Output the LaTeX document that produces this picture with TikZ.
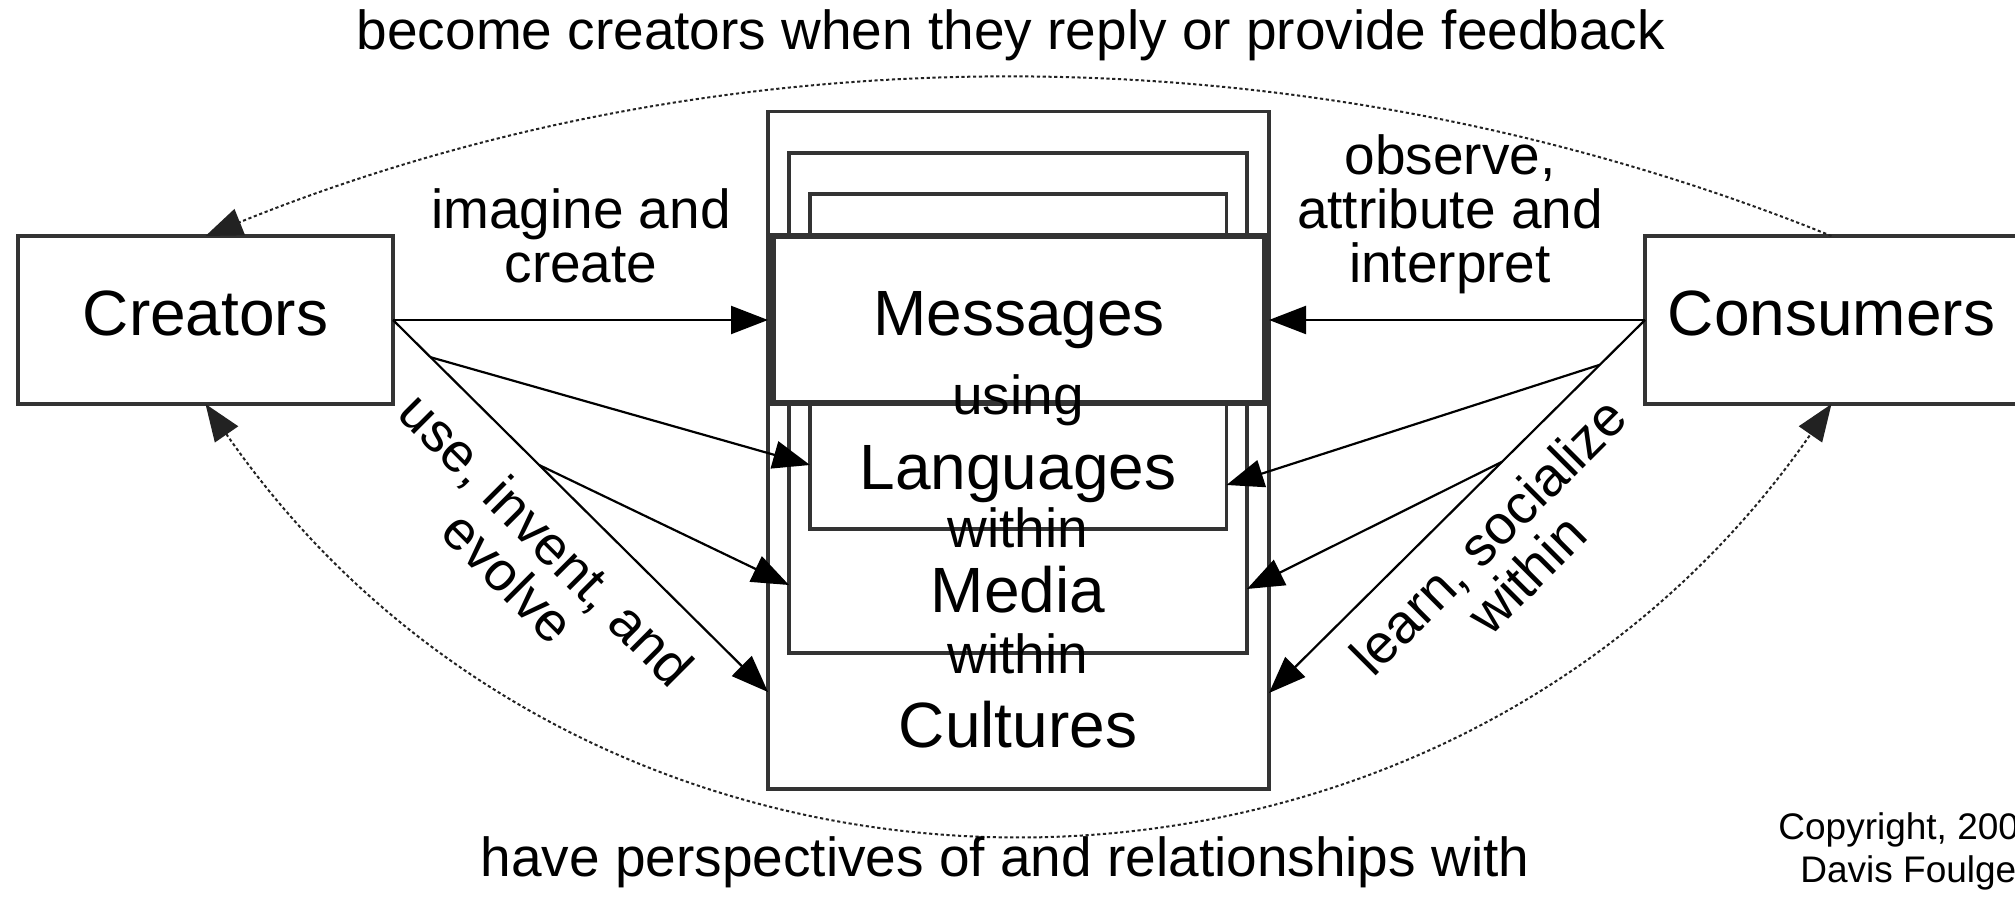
\documentclass[tikz,border=0pt]{standalone}
\usepackage{fontspec}
\setmainfont{Liberation Sans}
\usetikzlibrary{arrows.meta,calc}
\definecolor{linec}{HTML}{333333}
\definecolor{arcc}{HTML}{222222}
\begin{document}
\begin{tikzpicture}[x=0.5pt,y=-0.5pt,
  >={Triangle[length=18.5pt,width=14pt]},
  box/.style={draw=linec, line width=1.8pt, fill=white, inner sep=0pt, outer sep=0pt},
  bigtext/.style={font=\fontsize{32}{34}\selectfont, text height=23pt, text depth=7pt},
  conn/.style={draw=black, line width=1.1pt, ->},
  arcline/.style={draw=arcc, line width=1pt, dash pattern=on 1.6pt off 1.3pt},
  lab/.style={font=\fontsize{27.5}{27}\selectfont, align=center, inner sep=0pt},
  blab/.style={font=\fontsize{32}{34}\selectfont, inner sep=0pt},
  copyr/.style={font=\fontsize{18.5}{21}\selectfont, inner sep=0pt},
]
\useasboundingbox (0,0) rectangle (2015,897);
\clip (0,0) rectangle (2015,897);

% boxes
\node[box, minimum width=250.5pt, minimum height=338.75pt] (cult) at (1018.5,450.25) {};
\node[box, minimum width=229pt, minimum height=250pt] (media) at (1018,403) {};
\node[box, minimum width=208.25pt, minimum height=167.5pt] (lang) at (1018.25,361.5) {};
\node[box, bigtext, line width=2.6pt, minimum width=246pt, minimum height=83.5pt] (msg) at (1019,319.5) {Messages};
\node[box, bigtext, minimum width=187.5pt, minimum height=84pt] (cre) at (205.5,320) {Creators};
\node[box, bigtext, minimum width=186.5pt, minimum height=84pt] (con) at (1831.5,320) {Consumers};

% column labels
\node[lab, anchor=base] (using) at (1018,414.5) {using};
\node[blab, anchor=base] (langt) at (1018,490) {Languages};
\node[lab, anchor=base] (within1) at (1018,547.6) {within};
\node[blab, anchor=base] (mediat) at (1018,613) {Media};
\node[lab, anchor=base] (within2) at (1018,674) {within};
\node[blab, anchor=base] (cultt) at (1018,747.4) {Cultures};

% left connectors
\coordinate (cL) at ($(cult.south west)+(0,-97)$);
\draw[conn] (cre.east) -- (cre.east -| cult.west);
\draw[conn] (cre.east) -- (cL);
\draw[conn] ($(cre.east)!0.1!(cL)$) -- ($(lang.south west)+(0,-64)$);
\draw[conn] ($(cre.east)!0.39!(cL)$) -- ($(media.south west)+(0,-68)$);

% right connectors
\coordinate (cR) at ($(cult.south east)+(0,-96)$);
\draw[conn] (con.west) -- (con.west -| cult.east);
\draw[conn] (con.west) -- (cR);
\draw[conn] ($(con.west)!0.12!(cR)$) -- ($(lang.south east)+(0,-44)$);
\draw[conn] ($(con.west)!0.38!(cR)$) -- ($(media.south east)+(0,-64)$);

% arcs
\draw[arcline, ->] (con.north) .. controls +(-521,-210.5) and +(521,-210.5) .. (cre.north);
\draw[arcline, <->] (cre.south) .. controls +(393.6,568) and +(-393.6,568) .. (con.south);

% labels
\node[lab, anchor=base] (imag) at (581,283) {imagine and\\create};
\node[lab, anchor=base] (obs) at (1450,283) {observe,\\attribute and\\interpret};
\node[lab, rotate=-45] (uie) at (528,558) {use, invent, and\\evolve};
\node[lab, rotate=45] (lsw) at (1507,555) {learn, socialize\\within};
\node[lab, anchor=base] (toplab) at (1011,50) {become creators when they reply or provide feedback};
\node[lab, anchor=base] (botlab) at (1005,877) {have perspectives of and relationships with};
\node[copyr, anchor=base west] (c1) at (1778,840) {Copyright, 200};
\node[copyr, anchor=base west] (c2) at (1800,883) {Davis Foulge};
\end{tikzpicture}
\end{document}
